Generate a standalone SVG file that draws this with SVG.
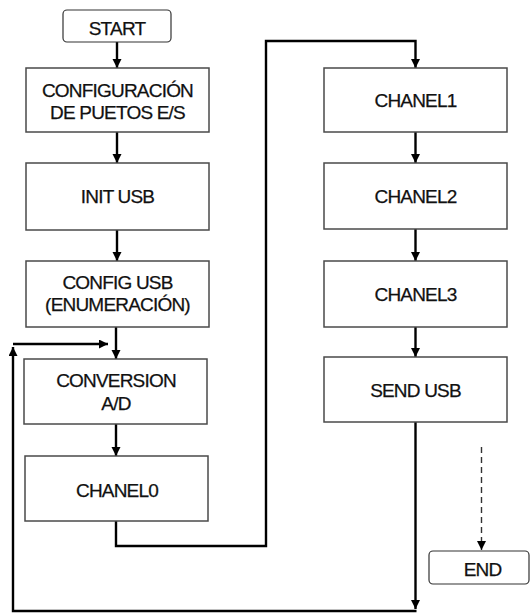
<svg xmlns="http://www.w3.org/2000/svg" width="531" height="613" viewBox="0 0 531 613">
<defs>
<style>
.box{fill:#fff;stroke:#4a4a4a;stroke-width:1.5}
.term{fill:#fff;stroke:#333;stroke-width:1.2}
.t{font-family:"Liberation Sans",Arial,sans-serif;font-size:19px;fill:#111;stroke:#111;stroke-width:0.25;text-anchor:middle;letter-spacing:-0.8px}
.c{fill:none;stroke:#000;stroke-width:2.4}
.d{fill:none;stroke:#333;stroke-width:1.4;stroke-dasharray:6,4}
</style>
<marker id="ah" markerUnits="userSpaceOnUse" markerWidth="10" markerHeight="10" refX="9" refY="4.5" orient="auto">
<path d="M0,0 L9,4.5 L0,9 z" fill="#000"/>
</marker>
</defs>
<rect width="531" height="613" fill="#fff"/>
<g id="connectors">
<path class="c" d="M117,42 V68" marker-end="url(#ah)"/>
<path class="c" d="M117,132 V163" marker-end="url(#ah)"/>
<path class="c" d="M117,230 V261" marker-end="url(#ah)"/>
<path class="c" d="M116,327 V359" marker-end="url(#ah)"/>
<path class="c" d="M116,424 V456" marker-end="url(#ah)"/>
<path class="c" d="M116,521 V546 H266 V41 H415.5 V68" marker-end="url(#ah)"/>
<path class="c" d="M415.5,132 V163" marker-end="url(#ah)"/>
<path class="c" d="M415.5,229 V261" marker-end="url(#ah)"/>
<path class="c" d="M415.5,327 V357" marker-end="url(#ah)"/>
<path class="c" d="M415.5,422 V609" marker-end="url(#ah)"/>
<path class="c" d="M416.5,611 H13 V347" marker-end="url(#ah)"/>
<path class="c" d="M13,344 H108" marker-end="url(#ah)"/>
<path class="d" d="M481.5,447 V550" marker-end="url(#ah)"/>
</g>
<g id="start"><rect class="term" x="63" y="10" width="108" height="32" rx="4"/><text class="t" x="117" y="35">START</text></g>
<g id="config-puertos"><rect class="box" x="26" y="68" width="183" height="64"/><text class="t" x="117.5" y="96.5">CONFIGURACIÓN</text><text class="t" x="117.5" y="119">DE PUETOS E/S</text></g>
<g id="init-usb"><rect class="box" x="26" y="163" width="183" height="67"/><text class="t" x="117.5" y="203">INIT USB</text></g>
<g id="config-usb"><rect class="box" x="26" y="261" width="183" height="66"/><text class="t" x="117.5" y="289">CONFIG USB</text><text class="t" x="117.5" y="311">(ENUMERACIÓN)</text></g>
<g id="conversion"><rect class="box" x="24" y="359" width="183" height="65"/><text class="t" x="116" y="386.5">CONVERSION</text><text class="t" x="116" y="410">A/D</text></g>
<g id="chanel0"><rect class="box" x="25" y="456" width="183" height="65"/><text class="t" x="117" y="496.5">CHANEL0</text></g>
<g id="chanel1"><rect class="box" x="324" y="68" width="183" height="64"/><text class="t" x="415.5" y="107">CHANEL1</text></g>
<g id="chanel2"><rect class="box" x="324" y="163" width="183" height="66"/><text class="t" x="415.5" y="203">CHANEL2</text></g>
<g id="chanel3"><rect class="box" x="324" y="261" width="183" height="66"/><text class="t" x="415.5" y="300.5">CHANEL3</text></g>
<g id="send-usb"><rect class="box" x="324" y="357" width="183" height="65"/><text class="t" x="415.5" y="396.5">SEND USB</text></g>
<g id="end"><rect class="term" x="429" y="551" width="100" height="33" rx="4"/><text class="t" x="482.5" y="575.5">END</text></g>
</svg>
